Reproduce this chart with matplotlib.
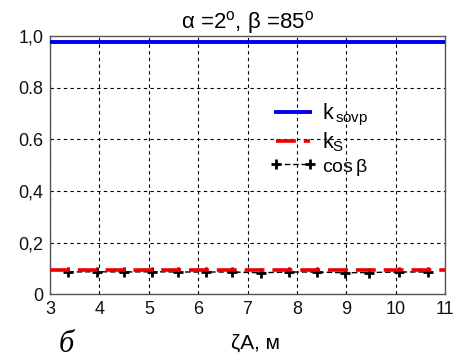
import matplotlib
matplotlib.use("Agg")
import matplotlib.pyplot as plt

plt.rcParams['font.family'] = ['Liberation Sans', 'DejaVu Sans']
plt.rcParams['mathtext.fontset'] = 'custom'
plt.rcParams['mathtext.rm'] = 'Liberation Sans'
plt.rcParams['mathtext.it'] = 'Liberation Sans'
plt.rcParams['mathtext.default'] = 'regular'

# data
x_line = [3, 11]
k_sovp = [0.975, 0.975]
k_s = [0.095, 0.095]
x_cos = [3.37, 3.95, 4.50, 5.06, 5.60, 6.16, 6.69, 7.27, 7.83, 8.40, 8.97, 9.46, 10.06, 10.66]
cos_b = [0.087, 0.088, 0.087, 0.088, 0.087, 0.087, 0.087, 0.084, 0.087, 0.087, 0.084, 0.085, 0.087, 0.087]
xticks = [3, 4, 5, 6, 7, 8, 9, 10, 11]
yticks = [0, 0.2, 0.4, 0.6, 0.8, 1.0]
ytick_labels = ["0", "0,2", "0,4", "0.6", "0.8", "1,0"]

fig = plt.figure(figsize=(4.64, 3.62), dpi=100)
ax = fig.add_axes([0.108, 0.1865, 0.851, 0.714])

ax.plot(x_line, k_sovp, color='#0000ee', lw=2.8, label=r'k$_{\,sovp}$', zorder=3)
ax.plot(x_cos, cos_b, color='black', lw=1.0, ls=(0, (4, 2)), marker='+', ms=7, mew=2.0,
        label=r'cos$\,$β', zorder=2)
ax.plot(x_line, k_s, color='#ee0000', lw=2.6, ls=(0, (5.5, 2.2)), label=r'k$_S$', zorder=4)

ax.set_xlim(3, 11)
ax.set_ylim(0, 1.0)
ax.set_xticks(xticks)
ax.set_yticks(yticks)
ax.set_yticklabels(ytick_labels)
ax.tick_params(labelsize=13, length=0, pad=5, colors='#111111')
ax.grid(True, color='black', ls=(0, (3, 3)), lw=0.8)
for s in ax.spines.values():
    s.set_color('#555555')
    s.set_linewidth(1.0)

ax.set_title(r'α =2$^{o}$, β =85$^{o}$', fontsize=16, pad=4)
ax.set_xlabel(r'ζA, м', fontsize=15)
ax.xaxis.set_label_coords(0.52, -0.15)

handles, labels = ax.get_legend_handles_labels()
order = [0, 2, 1]
leg = ax.legend([handles[i] for i in order], [labels[i] for i in order],
                loc='upper left', bbox_to_anchor=(0.555, 0.745), frameon=False,
                fontsize=15.5, handlelength=2.2, handletextpad=0.25, labelspacing=0.12,
                borderaxespad=0, borderpad=0, numpoints=2)
leg.get_texts()[2].set_fontsize(14)

fig.text(0.143, 0.028, 'б', fontsize=22, family='Liberation Serif', style='italic', ha='center')

fig.savefig('out.png', dpi=100)
